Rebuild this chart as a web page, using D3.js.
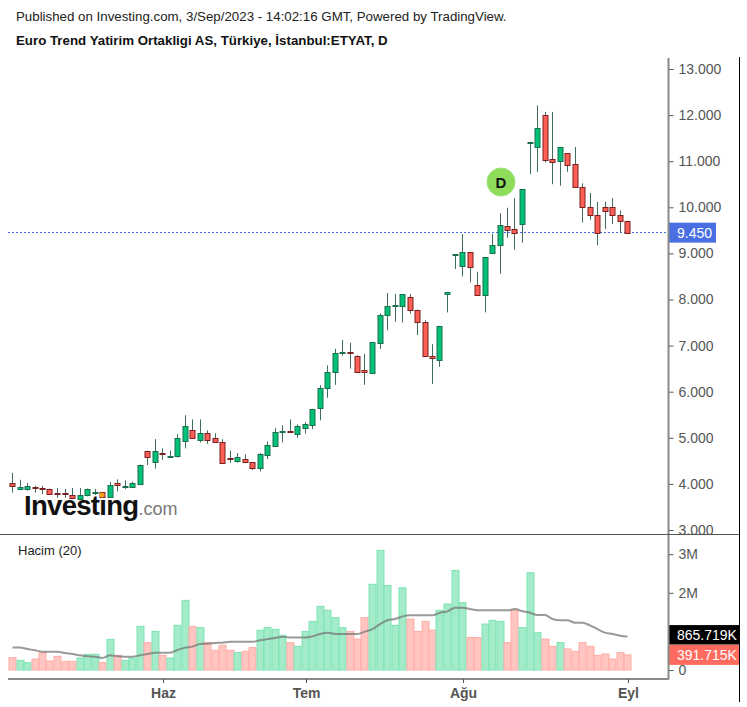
<!DOCTYPE html>
<html>
<head>
<meta charset="utf-8">
<script src="https://cdn.jsdelivr.net/npm/d3@7"></script>
<style>
  html, body { margin: 0; padding: 0; background: #fff; }
  text { font-family: "Liberation Sans", Arial, sans-serif; }
</style>
</head>
<body>
<div id="chart"></div>
<script>
// Daily candles
const opens = [4.02,3.89,3.90,3.93,3.91,3.89,3.80,3.80,3.75,3.68,3.76,3.79,3.82,3.73,4.02,3.94,3.94,4.01,4.72,4.49,4.67,4.60,4.60,4.93,5.18,4.95,5.10,4.99,4.90,4.56,4.49,4.53,4.47,4.33,4.64,4.82,5.13,5.15,5.09,5.20,5.28,5.63,6.07,6.42,6.83,6.86,6.78,6.46,6.39,7.07,7.67,7.85,7.85,8.05,7.78,7.51,6.78,6.70,8.11,8.97,8.72,9.03,8.32,8.10,9.02,9.18,9.60,9.52,9.62,11.40,11.29,12.01,11.04,11.00,11.17,10.93,10.44,10.00,9.84,10.00,10.00,9.84,9.70];
const closes = [3.95,3.93,3.96,3.90,3.88,3.79,3.77,3.77,3.68,3.77,3.88,3.82,3.72,3.98,3.98,3.96,4.02,4.42,4.60,4.72,4.64,4.61,4.99,5.26,5.01,5.10,4.95,4.90,4.45,4.54,4.58,4.47,4.33,4.64,4.85,5.12,5.15,5.12,5.26,5.29,5.63,6.07,6.42,6.83,6.86,6.83,6.44,6.41,7.07,7.67,7.86,7.88,8.11,7.77,7.51,6.78,6.74,7.43,8.16,8.98,9.03,8.70,8.10,8.92,9.19,9.62,9.51,9.43,10.39,11.42,11.71,11.03,10.97,11.30,10.92,10.44,10.00,9.83,9.44,9.91,9.83,9.70,9.45];
const highs = [4.24,4.09,4.02,3.96,3.96,3.90,3.91,3.89,3.91,3.91,3.90,3.89,3.83,4.04,4.10,4.08,4.05,4.42,4.72,4.97,4.77,4.72,5.08,5.49,5.40,5.40,5.16,5.10,4.97,4.72,4.67,4.64,4.47,4.67,4.92,5.21,5.27,5.40,5.29,5.34,5.63,6.14,6.57,6.93,7.12,7.06,6.79,6.82,7.07,7.70,8.14,8.12,8.11,8.12,7.78,7.55,7.03,7.43,8.16,8.98,9.42,9.03,8.60,8.92,9.42,9.87,9.99,10.20,10.39,11.42,12.21,12.07,12.07,11.30,11.17,11.31,10.52,10.31,10.12,10.12,10.20,9.93,9.70];
const lows = [3.81,3.87,3.85,3.81,3.78,3.78,3.70,3.70,3.67,3.67,3.73,3.76,3.71,3.72,3.84,3.89,3.91,4.00,4.41,4.33,4.52,4.59,4.57,4.77,5.00,4.90,4.87,4.90,4.44,4.46,4.46,4.45,4.30,4.27,4.54,4.82,4.90,5.12,5.00,5.09,5.19,5.38,5.87,6.15,6.78,6.50,6.41,6.15,6.39,6.93,7.33,7.52,7.50,7.69,7.23,6.78,6.17,6.54,7.72,8.66,8.50,8.37,8.10,7.72,9.02,8.56,9.34,9.08,9.23,10.72,10.77,10.97,10.50,10.47,10.77,10.44,9.67,9.73,9.18,9.53,9.64,9.45,9.45];

// Volume in millions and its 20 day average
const volumes = [0.32,0.25,0.19,0.285,0.45,0.233,0.354,0.225,0.225,0.31,0.406,0.406,0.19,0.794,0.38,0.25,0.31,1.13,0.708,1.0,0.38,0.31,1.157,1.805,1.13,1.097,0.708,0.51,0.64,0.51,0.45,0.484,0.58,1.03,1.097,1.053,0.898,0.708,0.613,1.0,1.26,1.65,1.546,1.356,1.097,1.0,0.80,1.356,2.22,3.10,2.19,1.157,2.13,1.32,1.0,1.26,1.03,1.546,1.71,2.58,1.744,0.84,0.84,1.19,1.287,1.26,0.708,1.546,1.097,2.52,0.967,0.80,0.613,0.708,0.544,0.484,0.708,0.613,0.38,0.415,0.285,0.45,0.392];
const volumeMa = [0.58,0.58,0.545,0.51,0.475,0.475,0.475,0.44,0.415,0.38,0.354,0.345,0.31,0.38,0.354,0.345,0.345,0.38,0.415,0.45,0.45,0.45,0.52,0.58,0.605,0.674,0.68,0.70,0.708,0.734,0.734,0.734,0.734,0.77,0.80,0.83,0.864,0.84,0.84,0.84,0.872,0.933,0.967,0.933,0.933,0.933,0.933,0.993,1.06,1.19,1.287,1.32,1.39,1.416,1.416,1.416,1.416,1.485,1.52,1.615,1.615,1.58,1.546,1.546,1.546,1.546,1.546,1.58,1.52,1.485,1.425,1.425,1.32,1.287,1.287,1.226,1.226,1.157,1.06,0.967,0.933,0.89,0.866];

const priceTicks = [3,4,5,6,7,8,9,10,11,12,13];
const volumeTicks = [0,2,3];
const monthIndex = [20,39,60,82];
const monthLabels = ['Haz','Tem','Ağu','Eyl'];
const lastPrice = 9.45;
const lastVolumeMa = 0.865719;
const lastVolume = 0.391715;

const w = 747, h = 707;
const svg = d3.select('#chart').append('svg')
  .attr('width', w).attr('height', h)
  .style('display', 'block');

const axisX = 668.5;
const x = d3.scaleLinear().domain([0, opens.length - 1]).range([12.5, 627.5]);
const y = d3.scaleLinear().domain([3, 13]).range([530, 69]);
const yVol = d3.scaleLinear().domain([0, 3]).range([670, 554.2]);
const snap = v => Math.floor(v) + 0.5;

// Header
svg.append('text').attr('x', 16).attr('y', 21).attr('font-size', 13.3).attr('fill', '#222')
  .text('Published on Investing.com, 3/Sep/2023 - 14:02:16 GMT, Powered by TradingView.');
svg.append('text').attr('x', 16).attr('y', 45).attr('font-size', 13.3).attr('font-weight', 'bold').attr('fill', '#111')
  .text('Euro Trend Yatirim Ortakligi AS, Türkiye, İstanbul:ETYAT, D');

// Logo
const logo = svg.append('text').attr('x', 24).attr('y', 515);
logo.append('tspan').attr('font-size', 27.5).attr('font-weight', 'bold').attr('fill', '#111')
  .attr('letter-spacing', -0.7).text('Investing');
logo.append('tspan').attr('font-size', 18).attr('fill', '#777').text('.com');

// Last price line
svg.append('line')
  .attr('x1', 8).attr('x2', axisX)
  .attr('y1', snap(y(lastPrice))).attr('y2', snap(y(lastPrice)))
  .attr('stroke', '#3f6ae6').attr('stroke-dasharray', '2,2');

// Candles
const idx = d3.range(opens.length);
const candles = svg.append('g');
candles.selectAll('line').data(idx).enter().append('line')
  .attr('x1', i => snap(x(i))).attr('x2', i => snap(x(i)))
  .attr('y1', i => y(highs[i])).attr('y2', i => y(lows[i]))
  .attr('stroke', '#3f6f5c');
candles.selectAll('rect').data(idx).enter().append('rect')
  .attr('x', i => snap(x(i)) - 2.5)
  .attr('width', 5)
  .attr('y', i => Math.round(y(Math.max(opens[i], closes[i]))) + 0.5)
  .attr('height', i => Math.max(1, Math.round(Math.abs(y(opens[i]) - y(closes[i])))))
  .attr('fill', i => closes[i] >= opens[i] ? '#00c176' : '#ff5f54')
  .attr('stroke', i => closes[i] >= opens[i] ? '#1a6e4c' : '#7a1f1f');

// Orange dot of the logo sits over the candles
svg.append('circle').attr('cx', 102).attr('cy', 495).attr('r', 2.5).attr('fill', '#f7a21b');

// Dividend marker
svg.append('circle').attr('cx', 501).attr('cy', 182).attr('r', 14).attr('fill', '#8edc5a').attr('stroke', '#9ee07a');
svg.append('text').attr('x', 501).attr('y', 187.5).attr('text-anchor', 'middle')
  .attr('font-size', 15).attr('font-weight', 'bold').attr('fill', '#111').text('D');

// Volume pane
svg.append('text').attr('x', 18).attr('y', 555).attr('font-size', 13).attr('fill', '#222').text('Hacim (20)');
svg.append('g').selectAll('rect').data(idx).enter().append('rect')
  .attr('x', i => snap(x(i)) - 3.5)
  .attr('width', 7)
  .attr('y', i => yVol(volumes[i]))
  .attr('height', i => yVol(0) - yVol(volumes[i]))
  .attr('fill', i => closes[i] >= opens[i] ? '#a4ecc9' : '#ffc5c0')
  .attr('stroke', i => closes[i] >= opens[i] ? '#7ce3b3' : '#ffaca6');
svg.append('path').datum(volumeMa)
  .attr('fill', 'none').attr('stroke', '#777').attr('stroke-opacity', 0.75).attr('stroke-width', 2)
  .attr('d', d3.line().x((_, i) => x(i)).y(d => yVol(d)).curve(d3.curveMonotoneX));

// Right axes
const styleAxis = g => {
  g.select('.domain').remove();
  g.selectAll('line').attr('stroke', '#555');
  g.selectAll('text').attr('font-size', 14).attr('fill', '#555');
};
svg.append('g').attr('transform', `translate(${axisX},0)`)
  .call(d3.axisRight(y).tickValues(priceTicks).tickSize(5).tickPadding(5).tickFormat(d3.format('.3f')))
  .call(styleAxis);
svg.append('g').attr('transform', `translate(${axisX},0)`)
  .call(d3.axisRight(yVol).tickValues(volumeTicks).tickSize(5).tickPadding(5).tickFormat(d => d ? d + 'M' : '0'))
  .call(styleAxis);

// Value labels on the axis
const tag = (top, bottom, right, fill, label) => {
  svg.append('rect').attr('x', axisX).attr('y', top).attr('width', right - axisX).attr('height', bottom - top).attr('fill', fill);
  svg.append('text').attr('x', 677).attr('y', (top + bottom) / 2 + 5).attr('font-size', 14).attr('fill', '#fff').text(label);
};
const yp = y(lastPrice);
tag(yp - 10, yp + 10, 716, '#4a6fe3', d3.format('.3f')(lastPrice));
tag(yVol(lastVolumeMa) - 11.5, yVol(lastVolumeMa) + 8, 739, '#000', d3.format('.3f')(lastVolumeMa * 1000) + 'K');
tag(yVol(lastVolume) - 10, yVol(lastVolume) + 10, 739, '#ff6b5e', d3.format('.3f')(lastVolume * 1000) + 'K');

// Frame
svg.append('line').attr('x1', axisX).attr('x2', axisX).attr('y1', 58).attr('y2', 679.5).attr('stroke', '#8a8a8a').attr('stroke-width', 2);
svg.append('line').attr('x1', 0).attr('x2', 739).attr('y1', 534.5).attr('y2', 534.5).attr('stroke', '#555');
svg.append('line').attr('x1', 8).attr('x2', axisX).attr('y1', 679).attr('y2', 679).attr('stroke', '#8a8a8a').attr('stroke-width', 2);
svg.append('line').attr('x1', 739.5).attr('x2', 739.5).attr('y1', 57).attr('y2', 702).attr('stroke', '#000');

// Month axis
const months = svg.append('g');
months.selectAll('line').data(monthIndex).enter().append('line')
  .attr('x1', d => snap(x(d)) + 1).attr('x2', d => snap(x(d)) + 1)
  .attr('y1', 679).attr('y2', 683).attr('stroke', '#555');
months.selectAll('text').data(monthIndex).enter().append('text')
  .attr('x', d => snap(x(d)) + 1).attr('y', 698)
  .attr('text-anchor', 'middle').attr('font-size', 14).attr('font-weight', 'bold').attr('fill', '#555')
  .text((_, i) => monthLabels[i]);
</script>
</body>
</html>
